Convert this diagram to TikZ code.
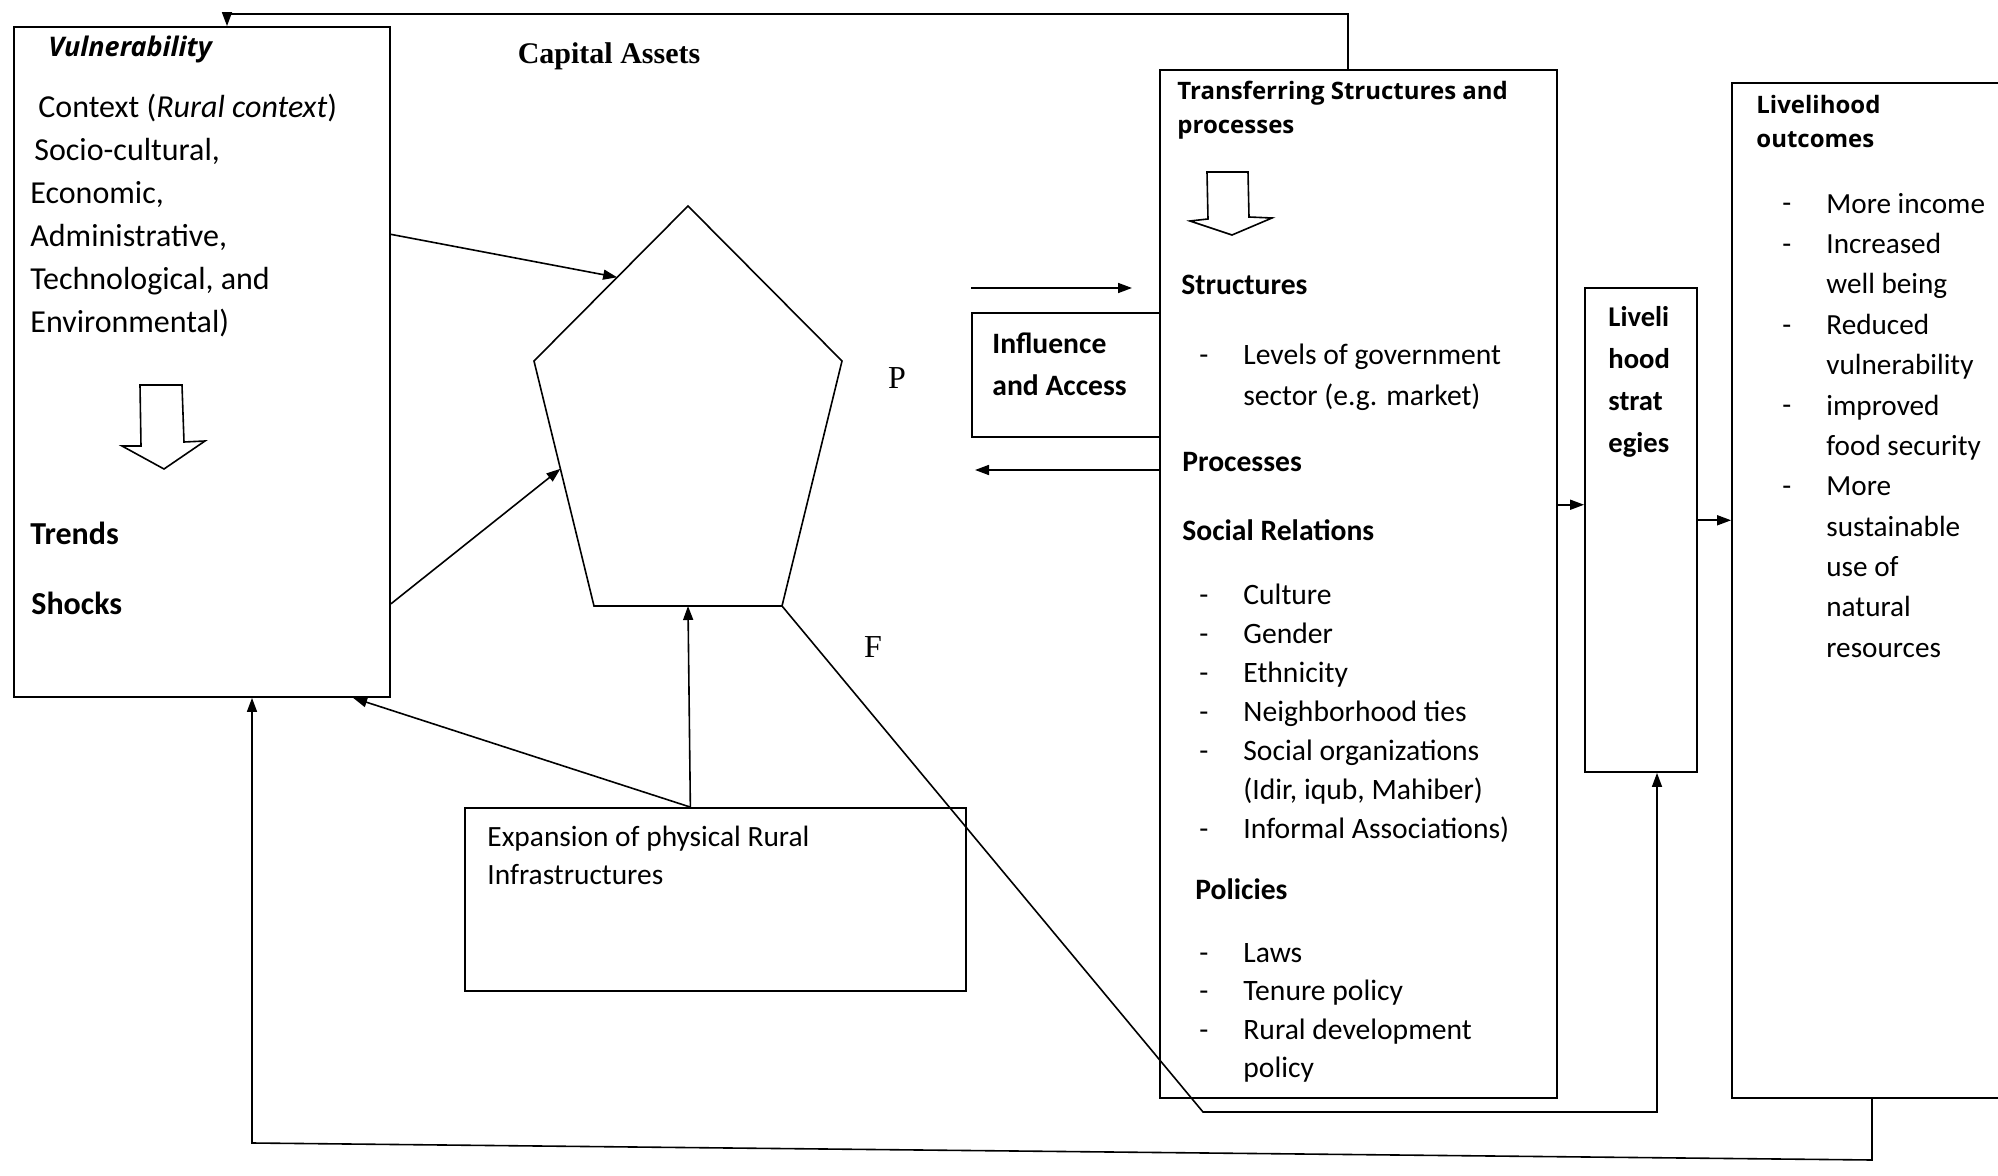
\documentclass[tikz,border=0pt]{standalone}
\usepackage{fontspec}
\setmainfont{Carlito}
\newfontfamily\headfont{Open Sans}
\newfontfamily\tmsfont{Liberation Serif}
\usepackage{tikz}
\usetikzlibrary{arrows.meta,fit,calc}

\tikzset{
  box/.style={draw, line width=0.9pt, inner sep=0pt},
  arr/.style={line width=0.8pt, -{Triangle[length=7pt,width=5pt]}},
  txt/.style={anchor=base west, inner sep=0pt, align=left, font=\fontsize{14.8}{19.5}\selectfont},
  bold/.style={txt, font=\bfseries\fontsize{14.8}{21}\selectfont},
  head/.style={txt, font=\headfont\bfseries\fontsize{12}{17}\selectfont},
}

\begin{document}
\begin{tikzpicture}[x=0.5pt,y=-0.5pt]
        \clip (0,0) rectangle (1998,1176);
        \fill[white] (0,0) rectangle (1998,1176);
        % riquadri
        \node[box, fit={(14,27) (390,697)}] (vul) {};
        \node[box, fit={(1160,70) (1557,1098)}] (trans) {};
        \node[box, fit={(972,313) (1160,437)}] (infl) {};
        \node[box, fit={(1585,288) (1697,772)}] (strat) {};
        \node[box, fit={(1732,83) (2030,1098)}] (outc) {};
        \node[box, fit={(465,808) (966,991)}] (expand) {};
        % pentagono
        \coordinate (pt) at (688,206);
        \coordinate (pur) at (842,361);
        \coordinate (plr) at (782,606);
        \coordinate (pll) at (594,606);
        \coordinate (pul) at (534,361);
        \draw[line width=0.8pt] (pt) -- (pur) -- (plr) -- (pll) -- (pul) -- cycle;
        \node[font=\tmsfont\bfseries\fontsize{15}{18}\selectfont] (cap) at (609,56) {Capital Assets};
        \node[font=\tmsfont\fontsize{16}{18}\selectfont] (plab) at (897,378) {P};
        \node[font=\tmsfont\fontsize{16}{18}\selectfont] (flab) at (873,647) {F};
        % frecce vuote
        \draw[line width=0.8pt] (140,385) -- (182,385) -- (184,442) -- (205,441) -- (164,469) -- (122,446) -- (141,446) -- cycle;
        \draw[line width=0.8pt] (1207,172) -- (1248,172) -- (1249,217) -- (1272,218) -- (1232,235) -- (1190,221) -- (1208,219) -- cycle;
        % testi vulnerabilita (base = ultima riga)
        \node[head, font=\headfont\bfseries\itshape\fontsize{13.5}{15}\selectfont] (vultitle) at (48,57) {Vulnerability};
        \node[txt, font=\fontsize{16}{21.5}\selectfont] (vulctx) at (30,333) {\hspace{4pt}Context (\textit{Rural context})\\\hspace{2pt}Socio-cultural,\\Economic,\\Administrative,\\Technological, and\\Environmental)};
        \node[bold, font=\bfseries\fontsize{16}{20}\selectfont] (trends) at (30,545) {Trends};
        \node[bold, font=\bfseries\fontsize{16}{20}\selectfont] (shocks) at (31,614) {Shocks};
        % testi strutture
        \node[head] (transtitle) at (1177,134) {Transferring Structures and\\processes};
        \node[bold] (structs) at (1181,295) {Structures};
        \node[txt] (lvdash) at (1199,365) {-};
        \node[txt, font=\fontsize{14.8}{20.5}\selectfont] (levels) at (1243,406) {Levels of government\\sector (e.g. market)};
        \node[bold] (procs) at (1182,472) {Processes};
        \node[bold] (socrel) at (1182,540) {Social Relations};
        \node[txt] (socdash) at (1199,838) {-\\-\\-\\-\\-\\\mbox{}\\-};
        \node[txt] (soclist) at (1243,838) {Culture\\Gender\\Ethnicity\\Neighborhood ties\\Social organizations\\(Idir, iqub, Mahiber)\\Informal Associations)};
        \node[bold] (pols) at (1195,899) {Policies};
        \node[txt, font=\fontsize{14.8}{19.25}\selectfont] (poldash) at (1199,1039) {-\\-\\-};
        \node[txt, font=\fontsize{14.8}{19.25}\selectfont] (pollist) at (1243,1077.5) {Laws\\Tenure policy\\Rural development\\policy};
        % altri testi
        \node[bold] (infltxt) at (992,396) {Influence\\and Access};
        \node[bold, font=\bfseries\fontsize{14.3}{21}\selectfont] (strattxt) at (1608,453) {Liveli\\hood\\strat\\egies};
        \node[head] (outtitle) at (1756,148) {Livelihood\\outcomes};
        \node[txt, font=\fontsize{14.6}{20.2}\selectfont] (outdash) at (1782,495.8) {-\\-\\\mbox{}\\-\\\mbox{}\\-\\\mbox{}\\-};
        \node[txt, font=\fontsize{14.6}{20.2}\selectfont] (outlist) at (1826,657.4) {More income\\Increased\\well being\\Reduced\\vulnerability\\improved\\food security\\More\\sustainable\\use of\\natural\\resources};
        \node[txt, font=\fontsize{14.7}{19}\selectfont] (exptxt) at (487,884) {Expansion of physical Rural\\Infrastructures};
        % connettori
        \coordinate (topR) at (1348,14);
        \coordinate (topL) at (227,14);
        \draw[arr] (trans.north -| topR) -- (topR) -- (topL) -- (vul.north -| topL);
        \coordinate (botR) at (1872,1160);
        \coordinate (botL) at (252,1143);
        \draw[arr] (outc.south -| botR) -- (botR) -- (botL) -- (vul.south -| botL);
        \coordinate (fB) at (1203,1112);
        \coordinate (fR) at (1657,1112);
        \draw[arr] (plr) -- (fB) -- (fR) -- (strat.south -| fR);
        \draw[arr] ($(vul.north east)!0.31!(vul.south east)$) -- ($(pul)!0.54!(pt)$);
        \draw[arr] ($(vul.north east)!0.86!(vul.south east)$) -- ($(pul)!0.44!(pll)$);
        \coordinate (exTop) at ($(expand.north west)!0.45!(expand.north east)$);
        \draw[arr] (exTop) -- ($(pll)!0.5!(plr)$);
        \draw[arr] (exTop) -- ($(vul.south west)!0.9!(vul.south east)$);
        \coordinate (inA) at (971,288);
        \coordinate (inB) at (1132,288);
        \draw[arr] (inA) -- (inB);
        \coordinate (outB) at (975,470);
        \draw[arr] (trans.west |- outB) -- (outB);
        \coordinate (s1) at ($(strat.north west)!0.448!(strat.south west)$);
        \draw[arr] (trans.east |- s1) -- (s1);
        \coordinate (s2) at ($(strat.north east)!0.48!(strat.south east)$);
        \draw[arr] (s2) -- (outc.west |- s2);
    \end{tikzpicture}
\end{document}
